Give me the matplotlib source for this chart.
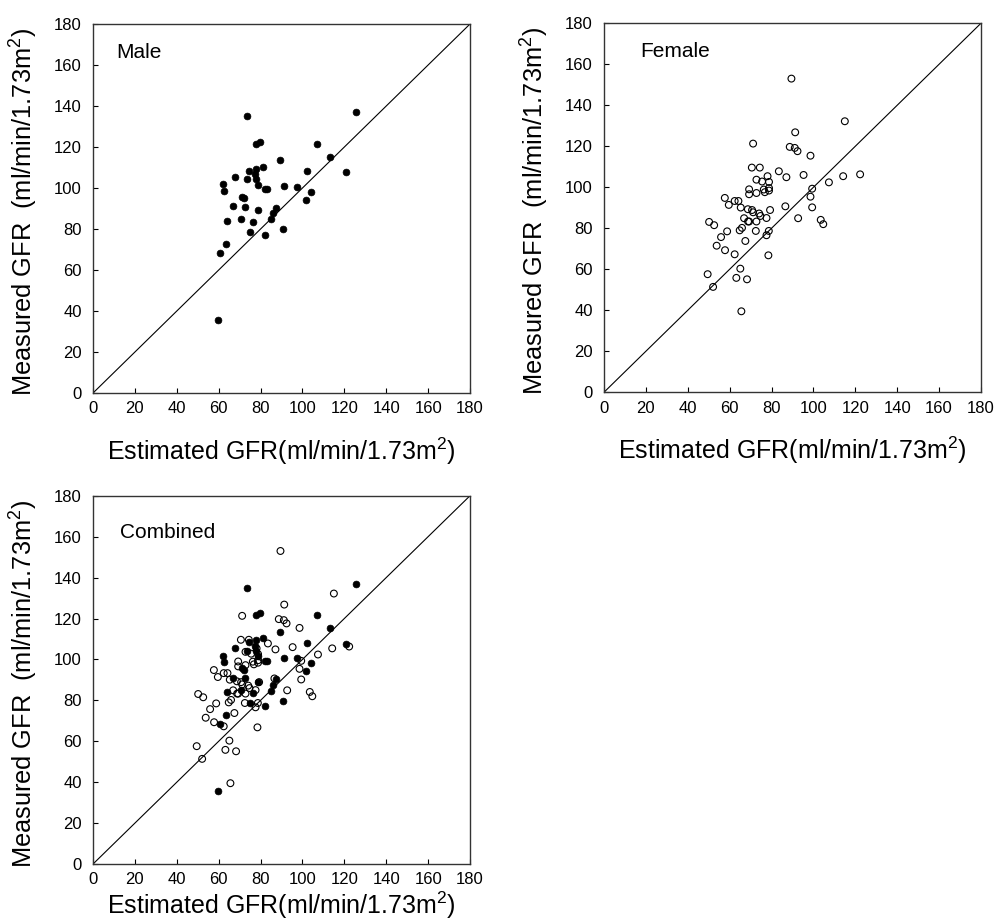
import matplotlib
matplotlib.use("Agg")
import matplotlib.pyplot as plt

plt.rcParams['font.family'] = ['Liberation Sans', 'DejaVu Sans']
plt.rcParams['mathtext.fontset'] = 'custom'
plt.rcParams['mathtext.rm'] = 'Liberation Sans'
plt.rcParams['mathtext.it'] = 'Liberation Sans'

# Male: estimated vs measured GFR
male_est = [73.3, 125.8, 78.0, 79.6, 107.0, 89.2, 113.1, 120.7, 102.3, 74.5, 78.0, 81.2,
            77.3, 78.0, 79.0, 67.9, 73.6, 62.1, 62.4, 82.0, 83.3, 91.3, 97.5, 104.3,
            101.9, 71.0, 72.1, 66.9, 72.5, 78.8, 87.6, 86.0, 85.2, 64.2, 70.7, 76.5,
            90.5, 74.9, 82.0, 63.7, 60.8, 59.9]
male_meas = [135.1, 137.0, 121.7, 122.6, 121.7, 113.6, 115.2, 107.6, 108.2, 108.4, 109.4, 110.4,
             106.8, 104.2, 101.6, 105.5, 104.2, 101.9, 98.5, 99.3, 99.3, 100.9, 100.6, 98.1,
             94.1, 95.7, 94.9, 91.1, 90.8, 89.2, 90.3, 87.6, 84.8, 84.1, 85.0, 83.5,
             79.8, 78.6, 77.1, 72.6, 68.4, 35.8]

# Female: estimated vs measured GFR
female_est = [89.5, 115.0, 91.3, 71.2, 88.7, 91.1, 92.4, 98.6, 70.6, 74.4, 83.5, 95.3,
              87.1, 78.1, 114.2, 122.3, 107.4, 72.8, 75.5, 78.8, 99.4, 69.3, 69.3, 72.8,
              76.3, 76.8, 78.8, 78.8, 57.7, 62.4, 64.2, 59.6, 65.3, 68.7, 70.7, 71.2,
              79.3, 86.6, 98.6, 99.4, 74.1, 74.7, 77.6, 66.9, 68.8, 69.3, 72.8, 50.2,
              52.6, 92.7, 103.5, 104.7, 58.8, 64.8, 65.9, 72.5, 78.7, 77.6, 55.9, 67.5,
              53.8, 57.8, 62.4, 78.5, 65.1, 49.5, 63.2, 68.3, 52.1, 65.6]
female_meas = [153.0, 132.2, 126.8, 121.3, 119.7, 119.2, 117.6, 115.4, 109.6, 109.6, 107.8, 106.0,
               104.9, 105.4, 105.4, 106.3, 102.4, 103.7, 102.8, 102.6, 99.3, 99.0, 96.6, 97.2,
               98.9, 97.6, 98.4, 99.6, 94.8, 93.3, 93.3, 91.4, 90.1, 89.3, 88.9, 87.8,
               88.9, 90.7, 95.4, 90.2, 87.2, 86.0, 85.0, 84.9, 83.3, 83.3, 83.3, 83.1,
               81.5, 84.9, 84.1, 82.0, 78.5, 79.0, 80.2, 78.7, 78.7, 76.6, 75.7, 73.8,
               71.5, 69.3, 67.3, 66.8, 60.3, 57.6, 55.8, 55.1, 51.4, 39.5]

ticks = [0, 20, 40, 60, 80, 100, 120, 140, 160, 180]
panel_titles = ["Male", "Female", "Combined"]

xlabel_text = "Estimated GFR(ml/min/1.73m$^2$)"
ylabel_text = "Measured GFR  (ml/min/1.73m$^2$)"

fig = plt.figure(figsize=(9.96, 9.23), dpi=100)

ax_m = fig.add_axes([0.0934, 0.5742, 0.3785, 0.3998])
ax_f = fig.add_axes([0.6064, 0.5750, 0.3785, 0.3998])
ax_c = fig.add_axes([0.0934, 0.0639, 0.3785, 0.3990])


def style(ax, title, tx, ty, xl_y, xl_va):
    ax.set_xlim(0, 180)
    ax.set_ylim(0, 180)
    ax.set_xticks(ticks)
    ax.set_yticks(ticks)
    ax.tick_params(direction='in', length=3.5, width=0.8, labelsize=12,
                   top=False, right=False)
    ax.tick_params(axis='x', pad=6)
    ax.tick_params(axis='y', pad=8)
    ax.plot([0, 180], [0, 180], color='black', lw=0.8)
    for s in ax.spines.values():
        s.set_linewidth(1.0)
        s.set_color('#333333')
    ax.text(tx, ty, title, fontsize=15, ha='left', va='baseline')
    ax.set_xlabel(xlabel_text, fontsize=18, va=xl_va)
    ax.xaxis.set_label_coords(0.5, xl_y)
    ax.set_ylabel(ylabel_text, fontsize=18.3)
    ax.yaxis.set_label_coords(-0.14, 0.49)


def male(ax):
    ax.scatter(male_est, male_meas, s=24, c='black', edgecolors='black', linewidths=0.5, zorder=3)


def female(ax):
    ax.scatter(female_est, female_meas, s=24, facecolors='none', edgecolors='black', linewidths=0.8, zorder=3)


style(ax_m, panel_titles[0], 11, 163.4, -0.115, 'top')
male(ax_m)
style(ax_f, panel_titles[1], 17.5, 163.7, -0.115, 'top')
female(ax_f)
style(ax_c, panel_titles[2], 12.9, 159.5, -0.155, 'bottom')
male(ax_c)
female(ax_c)

fig.savefig("out.png", dpi=100)
